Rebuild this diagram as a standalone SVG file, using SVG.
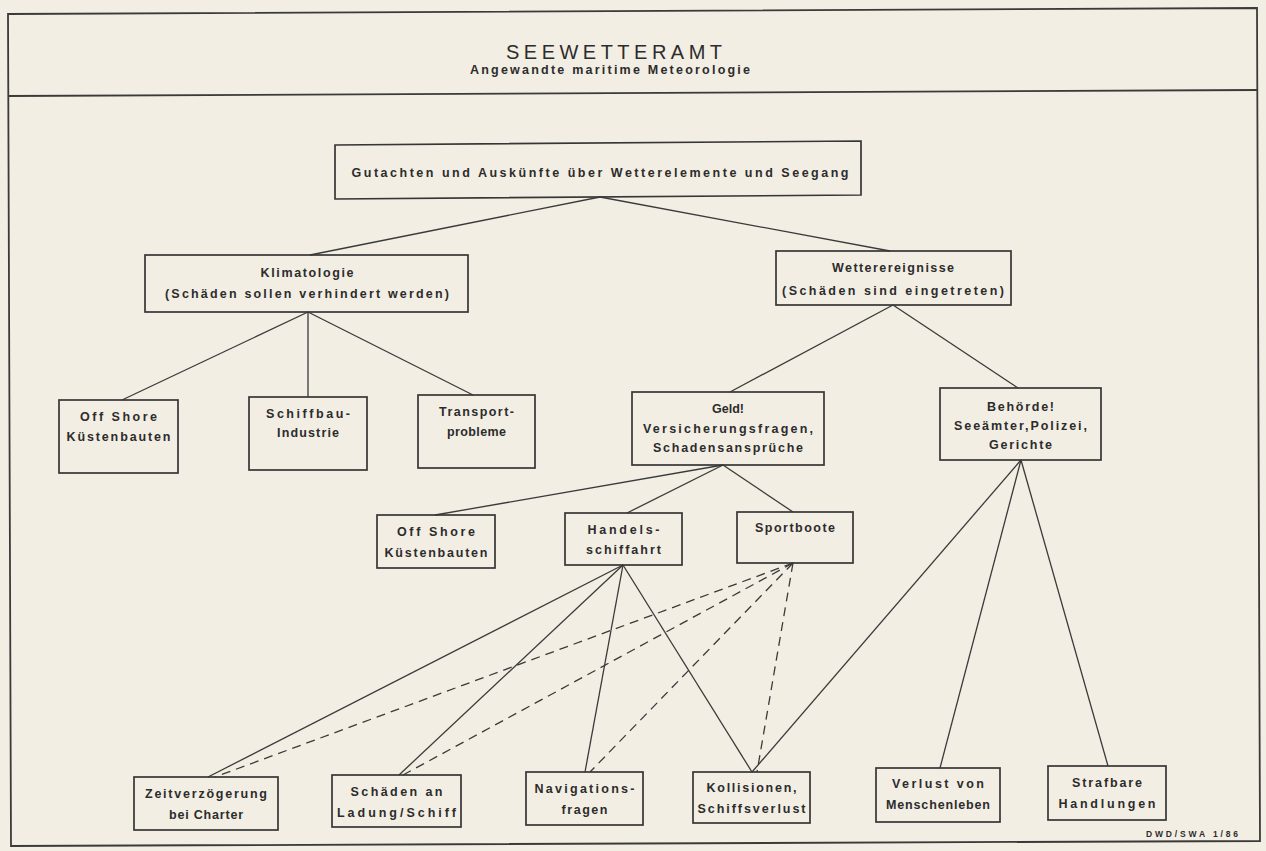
<svg xmlns="http://www.w3.org/2000/svg" width="1266" height="851" viewBox="0 0 1266 851">
<style>
.bg{fill:#f3eee3}
.frame{fill:none;stroke:#3a3a3a;stroke-width:1.8}
.box{fill:none;stroke:#363636;stroke-width:1.7}
.ln{fill:none;stroke:#3a3a3a;stroke-width:1.3}
.dash{fill:none;stroke:#3a3a3a;stroke-width:1.3;stroke-dasharray:9 6}
text{font-family:"Liberation Sans",Arial,sans-serif;fill:#2c2c2c;text-anchor:middle}
.t{font-size:12.5px;font-weight:bold}
.title{font-size:20px;font-weight:normal}
.sub{font-size:12.5px;font-weight:bold}
.small{font-size:8.5px;font-weight:bold}
</style>
<rect class="bg" x="0" y="0" width="1266" height="851"/>
<g id="frame">
<polygon class="frame" points="8,14 1257,8 1260,841 11,846"/>
<line class="frame" x1="8" y1="96" x2="1257" y2="90"/>
<text class="title" x="614" y="59" textLength="216" lengthAdjust="spacing">SEEWETTERAMT</text>
<text class="sub" x="610" y="74" textLength="280" lengthAdjust="spacing">Angewandte maritime Meteorologie</text>
<text class="small" x="1192" y="837" textLength="92" lengthAdjust="spacing">DWD/SWA 1/86</text>
</g>
<g id="connectors">
<line class="ln" x1="600" y1="197" x2="310" y2="255"/>
<line class="ln" x1="600" y1="197" x2="890" y2="251"/>
<line class="ln" x1="308" y1="312" x2="122" y2="400"/>
<line class="ln" x1="308" y1="312" x2="308" y2="397"/>
<line class="ln" x1="308" y1="312" x2="473" y2="395"/>
<line class="ln" x1="893" y1="305" x2="730" y2="392"/>
<line class="ln" x1="893" y1="305" x2="1018" y2="388"/>
<line class="ln" x1="723" y1="465" x2="435" y2="515"/>
<line class="ln" x1="723" y1="465" x2="627" y2="513"/>
<line class="ln" x1="723" y1="465" x2="793" y2="512"/>
<line class="ln" x1="1021" y1="460" x2="752" y2="772"/>
<line class="ln" x1="1021" y1="460" x2="940" y2="768"/>
<line class="ln" x1="1021" y1="460" x2="1108" y2="766"/>
<line class="ln" x1="623" y1="565" x2="208" y2="777"/>
<line class="ln" x1="623" y1="565" x2="399" y2="775"/>
<line class="ln" x1="623" y1="565" x2="585" y2="772"/>
<line class="ln" x1="623" y1="565" x2="752" y2="772"/>
<line class="dash" x1="793" y1="563" x2="215" y2="777"/>
<line class="dash" x1="793" y1="563" x2="403" y2="775"/>
<line class="dash" x1="793" y1="563" x2="590" y2="772"/>
<line class="dash" x1="793" y1="563" x2="757" y2="772"/>
</g>
<g id="n-gutachten">
<polygon class="box" points="335,145 861,141 861,195 335,199"/>
<text class="t" x="600" y="177" textLength="497" lengthAdjust="spacing">Gutachten und Auskünfte über Wetterelemente und Seegang</text>
</g>
<g id="n-klimatologie">
<rect class="box" x="145" y="255" width="323" height="57"/>
<text class="t" x="307" y="277" textLength="93" lengthAdjust="spacing">Klimatologie</text>
<text class="t" x="307" y="298" textLength="284" lengthAdjust="spacing">(Schäden sollen verhindert werden)</text>
</g>
<g id="n-wetterereignisse">
<rect class="box" x="776" y="251" width="235" height="54"/>
<text class="t" x="893" y="272" textLength="122" lengthAdjust="spacing">Wetterereignisse</text>
<text class="t" x="893" y="295" textLength="222" lengthAdjust="spacing">(Schäden sind eingetreten)</text>
</g>
<g id="n-offshore1">
<rect class="box" x="59" y="400" width="119" height="73"/>
<text class="t" x="118.5" y="421" textLength="77" lengthAdjust="spacing">Off Shore</text>
<text class="t" x="118.5" y="441" textLength="104" lengthAdjust="spacing">Küstenbauten</text>
</g>
<g id="n-schiffbau">
<rect class="box" x="249" y="397" width="118" height="73"/>
<text class="t" x="308" y="418" textLength="84" lengthAdjust="spacing">Schiffbau-</text>
<text class="t" x="308" y="437" textLength="62" lengthAdjust="spacing">Industrie</text>
</g>
<g id="n-transport">
<rect class="box" x="418" y="395" width="117" height="73"/>
<text class="t" x="476.5" y="416" textLength="75" lengthAdjust="spacing">Transport-</text>
<text class="t" x="476.5" y="436" textLength="59" lengthAdjust="spacing">probleme</text>
</g>
<g id="n-geld">
<rect class="box" x="632" y="392" width="192" height="73"/>
<text class="t" x="728" y="413">Geld!</text>
<text class="t" x="728" y="433" textLength="170" lengthAdjust="spacing">Versicherungsfragen,</text>
<text class="t" x="728" y="452" textLength="150" lengthAdjust="spacing">Schadensansprüche</text>
</g>
<g id="n-behoerde">
<rect class="box" x="940" y="388" width="161" height="72"/>
<text class="t" x="1020.5" y="411" textLength="67" lengthAdjust="spacing">Behörde!</text>
<text class="t" x="1020.5" y="430" textLength="133" lengthAdjust="spacing">Seeämter,Polizei,</text>
<text class="t" x="1020.5" y="449" textLength="63" lengthAdjust="spacing">Gerichte</text>
</g>
<g id="n-offshore2">
<rect class="box" x="377" y="515" width="118" height="53"/>
<text class="t" x="436" y="536" textLength="78" lengthAdjust="spacing">Off Shore</text>
<text class="t" x="436" y="557" textLength="103" lengthAdjust="spacing">Küstenbauten</text>
</g>
<g id="n-handelsschiffahrt">
<rect class="box" x="565" y="513" width="117" height="52"/>
<text class="t" x="623.5" y="534" textLength="72" lengthAdjust="spacing">Handels-</text>
<text class="t" x="623.5" y="554" textLength="75" lengthAdjust="spacing">schiffahrt</text>
</g>
<g id="n-sportboote">
<rect class="box" x="737" y="512" width="116" height="51"/>
<text class="t" x="795" y="532" textLength="80" lengthAdjust="spacing">Sportboote</text>
</g>
<g id="n-zeit">
<rect class="box" x="134" y="777" width="144" height="53"/>
<text class="t" x="206" y="798" textLength="122" lengthAdjust="spacing">Zeitverzögerung</text>
<text class="t" x="206" y="819" textLength="74" lengthAdjust="spacing">bei Charter</text>
</g>
<g id="n-schaeden">
<rect class="box" x="332" y="775" width="129" height="52"/>
<text class="t" x="396.5" y="796" textLength="92" lengthAdjust="spacing">Schäden an</text>
<text class="t" x="396.5" y="817" textLength="119" lengthAdjust="spacing">Ladung/Schiff</text>
</g>
<g id="n-navigation">
<rect class="box" x="526" y="772" width="117" height="53"/>
<text class="t" x="584.5" y="793" textLength="100" lengthAdjust="spacing">Navigations-</text>
<text class="t" x="584.5" y="814" textLength="46" lengthAdjust="spacing">fragen</text>
</g>
<g id="n-kollisionen">
<rect class="box" x="693" y="772" width="117" height="51"/>
<text class="t" x="751.5" y="792" textLength="90" lengthAdjust="spacing">Kollisionen,</text>
<text class="t" x="751.5" y="813" textLength="108" lengthAdjust="spacing">Schiffsverlust</text>
</g>
<g id="n-verlust">
<rect class="box" x="876" y="768" width="124" height="54"/>
<text class="t" x="938" y="788" textLength="92" lengthAdjust="spacing">Verlust von</text>
<text class="t" x="938" y="809" textLength="104" lengthAdjust="spacing">Menschenleben</text>
</g>
<g id="n-strafbare">
<rect class="box" x="1048" y="766" width="118" height="54"/>
<text class="t" x="1107" y="787" textLength="70" lengthAdjust="spacing">Strafbare</text>
<text class="t" x="1107" y="808" textLength="97" lengthAdjust="spacing">Handlungen</text>
</g>
</svg>
